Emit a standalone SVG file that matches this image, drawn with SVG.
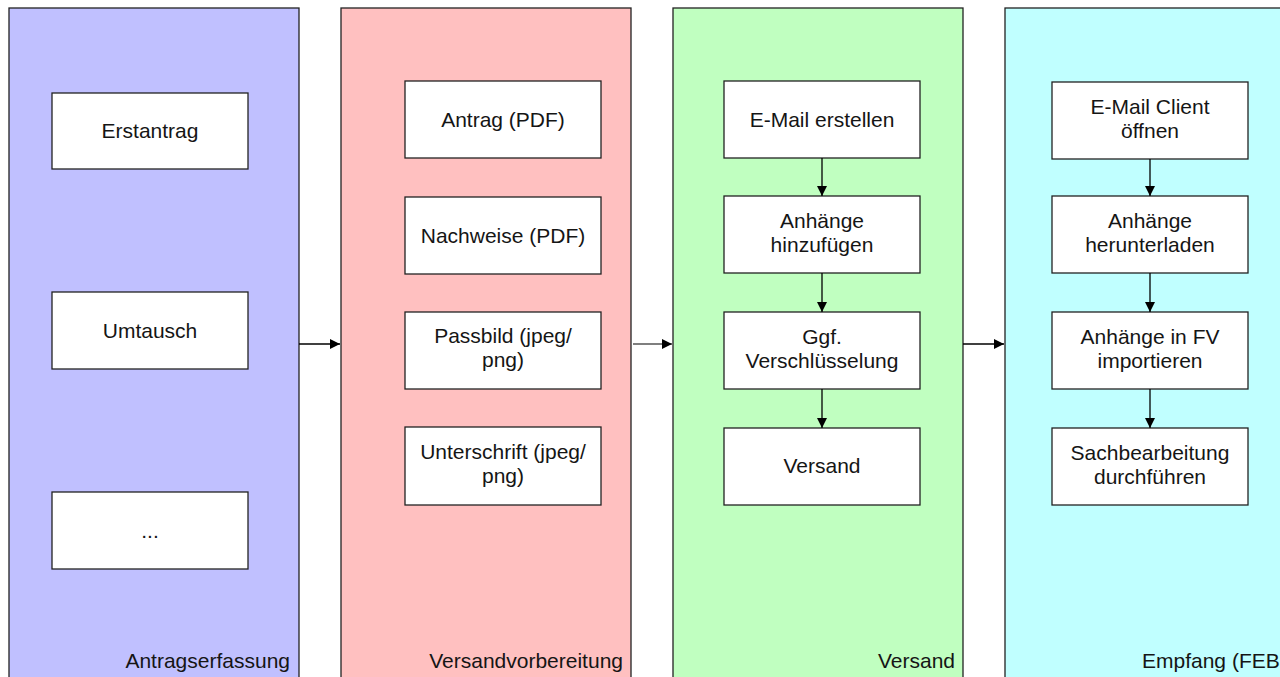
<svg xmlns="http://www.w3.org/2000/svg" width="1280" height="677" viewBox="0 0 1280 677">
<defs>
<style>
.lane{stroke:#222;stroke-width:1.3}
.box{fill:#fff;stroke:#222;stroke-width:1.3}
text{font-family:"Liberation Sans",Arial,Helvetica,sans-serif;font-size:21px;fill:#151515}
.c{text-anchor:middle}
.e{text-anchor:end}
.con{stroke:#000;stroke-width:1.3;fill:none;marker-end:url(#ah)}
</style>
<marker id="ah" viewBox="0 0 10 10" refX="10" refY="5" markerWidth="10" markerHeight="10" markerUnits="userSpaceOnUse" orient="auto">
<path d="M0,0 L10,5 L0,10 Z" fill="#000"/>
</marker>
</defs>
<rect width="1280" height="677" fill="#fff"/>

<g id="lane-antragserfassung">
<rect class="lane" x="9" y="8" width="290" height="680" fill="#c0c0ff"/>
<text class="e" x="290" y="668">Antragserfassung</text>
</g>
<g id="lane-versandvorbereitung">
<rect class="lane" x="341" y="8" width="290" height="680" fill="#ffc0c0"/>
<text class="e" x="623" y="668">Versandvorbereitung</text>
</g>
<g id="lane-versand">
<rect class="lane" x="673" y="8" width="290" height="680" fill="#c0ffc0"/>
<text class="e" x="955" y="668">Versand</text>
</g>
<g id="lane-empfang">
<rect class="lane" x="1005" y="8" width="300" height="680" fill="#c0ffff"/>
<text x="1142" y="668">Empfang (FEB</text>
</g>

<g id="n-erstantrag"><rect class="box" x="52" y="93" width="196" height="76"/><text class="c" x="150" y="138">Erstantrag</text></g>
<g id="n-umtausch"><rect class="box" x="52" y="292" width="196" height="77"/><text class="c" x="150" y="338">Umtausch</text></g>
<g id="n-dots"><rect class="box" x="52" y="492" width="196" height="77"/><text class="c" x="150" y="538">...</text></g>

<g id="n-antrag"><rect class="box" x="405" y="81" width="196" height="77"/><text class="c" x="503" y="127">Antrag (PDF)</text></g>
<g id="n-nachweise"><rect class="box" x="405" y="197" width="196" height="77"/><text class="c" x="503" y="243">Nachweise (PDF)</text></g>
<g id="n-passbild"><rect class="box" x="405" y="312" width="196" height="77"/><text class="c" x="503" y="343">Passbild (jpeg/</text><text class="c" x="503" y="367">png)</text></g>
<g id="n-unterschrift"><rect class="box" x="405" y="427" width="196" height="78"/><text class="c" x="503" y="459">Unterschrift (jpeg/</text><text class="c" x="503" y="483">png)</text></g>

<g id="n-email"><rect class="box" x="724" y="81" width="196" height="77"/><text class="c" x="822" y="127">E-Mail erstellen</text></g>
<g id="n-anhaenge"><rect class="box" x="724" y="196" width="196" height="77"/><text class="c" x="822" y="228">Anhänge</text><text class="c" x="822" y="252">hinzufügen</text></g>
<g id="n-verschl"><rect class="box" x="724" y="312" width="196" height="77"/><text class="c" x="822" y="344">Ggf.</text><text class="c" x="822" y="368">Verschlüsselung</text></g>
<g id="n-versand"><rect class="box" x="724" y="428" width="196" height="77"/><text class="c" x="822" y="473">Versand</text></g>

<g id="n-client"><rect class="box" x="1052" y="82" width="196" height="77"/><text class="c" x="1150" y="114">E-Mail Client</text><text class="c" x="1150" y="138">öffnen</text></g>
<g id="n-herunterladen"><rect class="box" x="1052" y="196" width="196" height="77"/><text class="c" x="1150" y="228">Anhänge</text><text class="c" x="1150" y="252">herunterladen</text></g>
<g id="n-importieren"><rect class="box" x="1052" y="312" width="196" height="77"/><text class="c" x="1150" y="344">Anhänge in FV</text><text class="c" x="1150" y="368">importieren</text></g>
<g id="n-sachbearbeitung"><rect class="box" x="1052" y="428" width="196" height="77"/><text class="c" x="1150" y="460">Sachbearbeitung</text><text class="c" x="1150" y="484">durchführen</text></g>

<g id="connectors">
<line class="con" x1="299" y1="344" x2="340" y2="344"/>
<line class="con" x1="633" y1="344" x2="672" y2="344" style="stroke:#555"/>
<line class="con" x1="963" y1="344" x2="1004" y2="344"/>
<line class="con" x1="822" y1="158" x2="822" y2="196"/>
<line class="con" x1="822" y1="273" x2="822" y2="312"/>
<line class="con" x1="822" y1="389" x2="822" y2="428"/>
<line class="con" x1="1150" y1="159" x2="1150" y2="196"/>
<line class="con" x1="1150" y1="273" x2="1150" y2="312"/>
<line class="con" x1="1150" y1="389" x2="1150" y2="428"/>
</g>
</svg>
